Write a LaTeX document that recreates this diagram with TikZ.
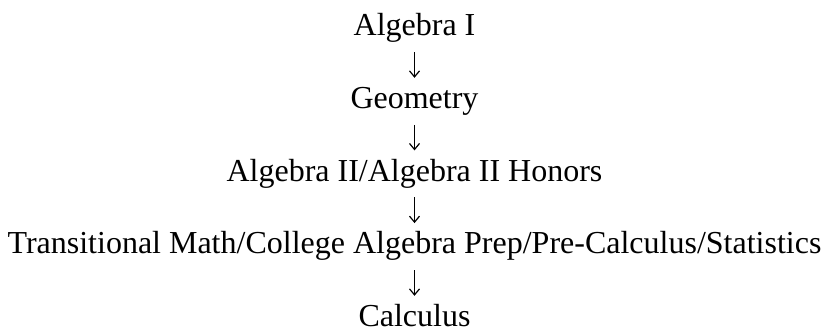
\documentclass[tikz,border=0pt]{standalone}
\usepackage{fontspec}
\setmainfont{Liberation Serif}
\usetikzlibrary{arrows.meta}
\begin{document}
\begin{tikzpicture}[x=1pt,y=1pt,
  lbl/.style={inner sep=0pt, anchor=base, font=\fontsize{32}{36}\selectfont, text height=22.4pt, text depth=7.2pt},
  conn/.style={-{Straight Barb[length=6pt,width=10pt]}, line width=1.2pt, shorten <=8.8pt, shorten >=8.3pt}]
\useasboundingbox (0,0) rectangle (829,332);
\node[lbl] (a) at (414.5,296) {Algebra I};
\node[lbl] (b) at (414.5,223.3) {Geometry};
\node[lbl] (c) at (414.5,150.7) {Algebra II/Algebra II Honors};
\node[lbl] (d) at (414.5,78) {Transitional Math/College Algebra Prep/Pre-Calculus/Statistics};
\node[lbl] (e) at (414.5,5.3) {Calculus};
\draw[conn] (a) -- (b);
\draw[conn] (b) -- (c);
\draw[conn] (c) -- (d);
\draw[conn] (d) -- (e);
\end{tikzpicture}
\end{document}
